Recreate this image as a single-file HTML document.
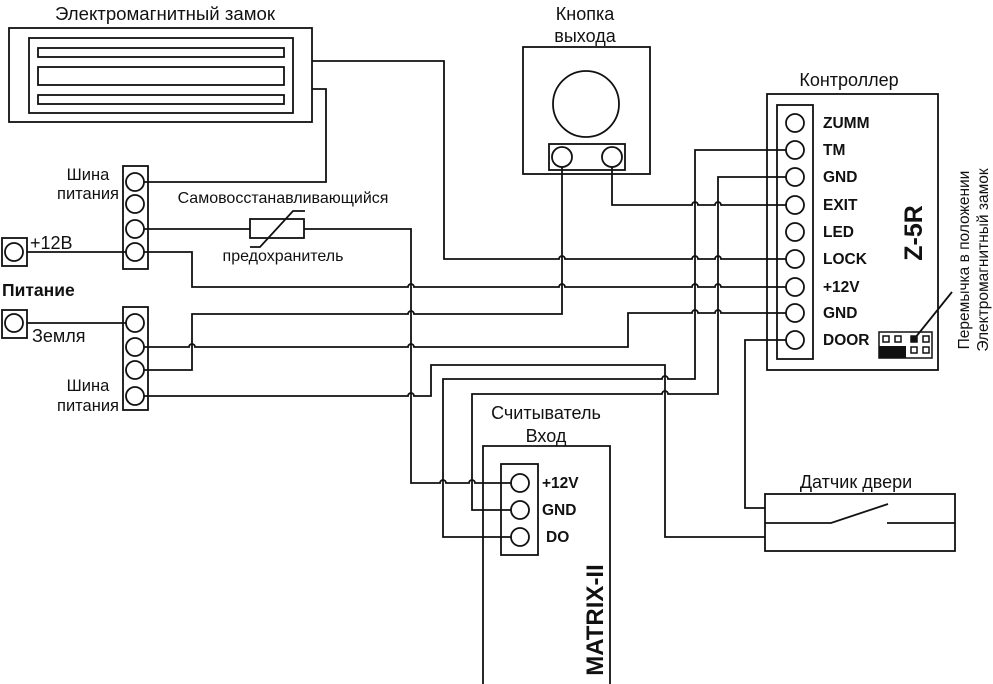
<!DOCTYPE html>
<html><head><meta charset="utf-8"><style>
body{margin:0;background:#fff;}
svg{display:block;font-family:"Liberation Sans","DejaVu Sans",sans-serif;}
</style></head><body>
<svg width="993" height="684" viewBox="0 0 993 684" xmlns="http://www.w3.org/2000/svg">
<g fill="none" stroke="#111" stroke-width="1.8">
<rect x="9" y="28" width="303" height="94"/>
<rect x="29" y="38" width="264" height="75"/>
<rect x="38" y="48" width="246" height="9"/>
<rect x="38" y="67" width="246" height="18"/>
<rect x="38" y="95" width="246" height="9"/>
<rect x="523" y="47" width="127" height="127"/>
<circle cx="586" cy="104" r="33"/>
<rect x="549" y="144" width="76" height="26"/>
<circle cx="562" cy="157" r="10"/>
<circle cx="612" cy="157" r="10"/>
<rect x="123" y="166" width="25" height="103"/>
<circle cx="135" cy="182" r="9"/><circle cx="135" cy="204" r="9"/><circle cx="135" cy="229" r="9"/><circle cx="135" cy="252" r="9"/>
<rect x="123" y="307" width="25" height="103"/>
<circle cx="135" cy="323" r="9"/><circle cx="135" cy="347" r="9"/><circle cx="135" cy="370" r="9"/><circle cx="135" cy="396" r="9"/>
<rect x="2" y="238" width="25" height="28"/><circle cx="14" cy="252" r="9"/>
<rect x="2" y="310" width="25" height="28"/><circle cx="14" cy="323" r="9"/>
<rect x="250" y="219" width="54" height="19"/>
<path d="M250 247H260L293 211H305"/>
<rect x="767" y="94" width="171" height="276"/>
<rect x="777" y="105" width="36" height="254"/>
<circle cx="795" cy="123" r="9"/><circle cx="795" cy="150" r="9"/><circle cx="795" cy="177" r="9"/><circle cx="795" cy="205" r="9"/><circle cx="795" cy="232" r="9"/><circle cx="795" cy="259" r="9"/><circle cx="795" cy="287" r="9"/><circle cx="795" cy="313" r="9"/><circle cx="795" cy="340" r="9"/>
<path d="M483 690V446H610V690"/>
<rect x="501" y="464" width="37" height="91"/>
<circle cx="520" cy="483" r="9"/><circle cx="520" cy="510" r="9"/><circle cx="520" cy="537" r="9"/>
<rect x="765" y="494" width="190" height="57"/>
<path d="M765 523H831L888 504M887 523H955"/>
<path d="M312 61H444V259H559a3 3 0 0 1 6 0H692a3 3 0 0 1 6 0H715a3 3 0 0 1 6 0H786"/>
<path d="M312 89H326V182H144"/>
<path d="M144 229H250M304 229H411V483H440a3 3 0 0 1 6 0H469a3 3 0 0 1 6 0H511"/>
<path d="M144 252H192V287H408a3 3 0 0 1 6 0H559a3 3 0 0 1 6 0H692a3 3 0 0 1 6 0H715a3 3 0 0 1 6 0H786"/>
<path d="M27 252H126M27 323H126"/>
<path d="M144 347H189a3 3 0 0 1 6 0H408a3 3 0 0 1 6 0H628V313H692a3 3 0 0 1 6 0H715a3 3 0 0 1 6 0H786"/>
<path d="M144 370H192V314H408a3 3 0 0 1 6 0H562V167"/>
<path d="M144 396H408a3 3 0 0 1 6 0H431V365H665V537H765"/>
<path d="M511 537H443V379H662a3 3 0 0 1 6 0H695V150H786"/>
<path d="M511 510H472V394H662a3 3 0 0 1 6 0H718V177H786"/>
<path d="M612 167V205H692a3 3 0 0 1 6 0H715a3 3 0 0 1 6 0H786"/>
<path d="M786 340H745V508H765"/>
<path d="M952 292L915 338"/>
</g>
<g fill="none" stroke="#111" stroke-width="1.5">
<rect x="879" y="332" width="53" height="26"/>
<rect x="883" y="336" width="6" height="6"/><rect x="895" y="336" width="6" height="6"/><rect x="911" y="336" width="6" height="6" fill="#111"/><rect x="923" y="336" width="6" height="6"/>
<rect x="911" y="347" width="6" height="6"/><rect x="923" y="347" width="6" height="6"/>
</g>
<rect x="879" y="346" width="27" height="12" fill="#111"/>
<g fill="#111" font-size="18">
<text x="165" y="20" text-anchor="middle" textLength="220" lengthAdjust="spacingAndGlyphs">Электромагнитный замок</text>
<text x="585" y="20" text-anchor="middle">Кнопка</text>
<text x="585" y="42" text-anchor="middle">выхода</text>
<text x="849" y="86" text-anchor="middle">Контроллер</text>
<text x="88" y="180" text-anchor="middle" font-size="16.5">Шина</text>
<text x="88" y="199" text-anchor="middle" font-size="16.5">питания</text>
<text x="283" y="203" text-anchor="middle" font-size="16">Самовосстанавливающийся</text>
<text x="283" y="261" text-anchor="middle" font-size="16">предохранитель</text>
<text x="30" y="249" font-size="18">+12В</text>
<text x="2" y="296" font-size="17.5" font-weight="bold">Питание</text>
<text x="32" y="342" font-size="18">Земля</text>
<text x="88" y="391" text-anchor="middle" font-size="16.5">Шина</text>
<text x="88" y="411" text-anchor="middle" font-size="16.5">питания</text>
<text x="546" y="419" text-anchor="middle">Считыватель</text>
<text x="546" y="442" text-anchor="middle">Вход</text>
<text x="856" y="488" text-anchor="middle">Датчик двери</text>
</g>
<g fill="#111" font-size="15.5" font-weight="bold">
<text x="823" y="128">ZUMM</text><text x="823" y="155">TM</text><text x="823" y="182">GND</text><text x="823" y="210">EXIT</text><text x="823" y="237">LED</text><text x="823" y="264">LOCK</text><text x="823" y="292">+12V</text><text x="823" y="318">GND</text><text x="823" y="345">DOOR</text>
<text x="542" y="488">+12V</text><text x="542" y="515">GND</text><text x="546" y="542">DO</text>
<text transform="translate(922,233) rotate(-90)" text-anchor="middle" font-size="25">Z-5R</text>
<text transform="translate(603,620) rotate(-90)" text-anchor="middle" font-size="24">MATRIX-II</text>
</g>
<g fill="#111" font-size="15.5">
<text transform="translate(969,260) rotate(-90)" text-anchor="middle">Перемычка в положении</text>
<text transform="translate(988,260) rotate(-90)" text-anchor="middle">Электромагнитный замок</text>
</g>
</svg>
</body></html>
